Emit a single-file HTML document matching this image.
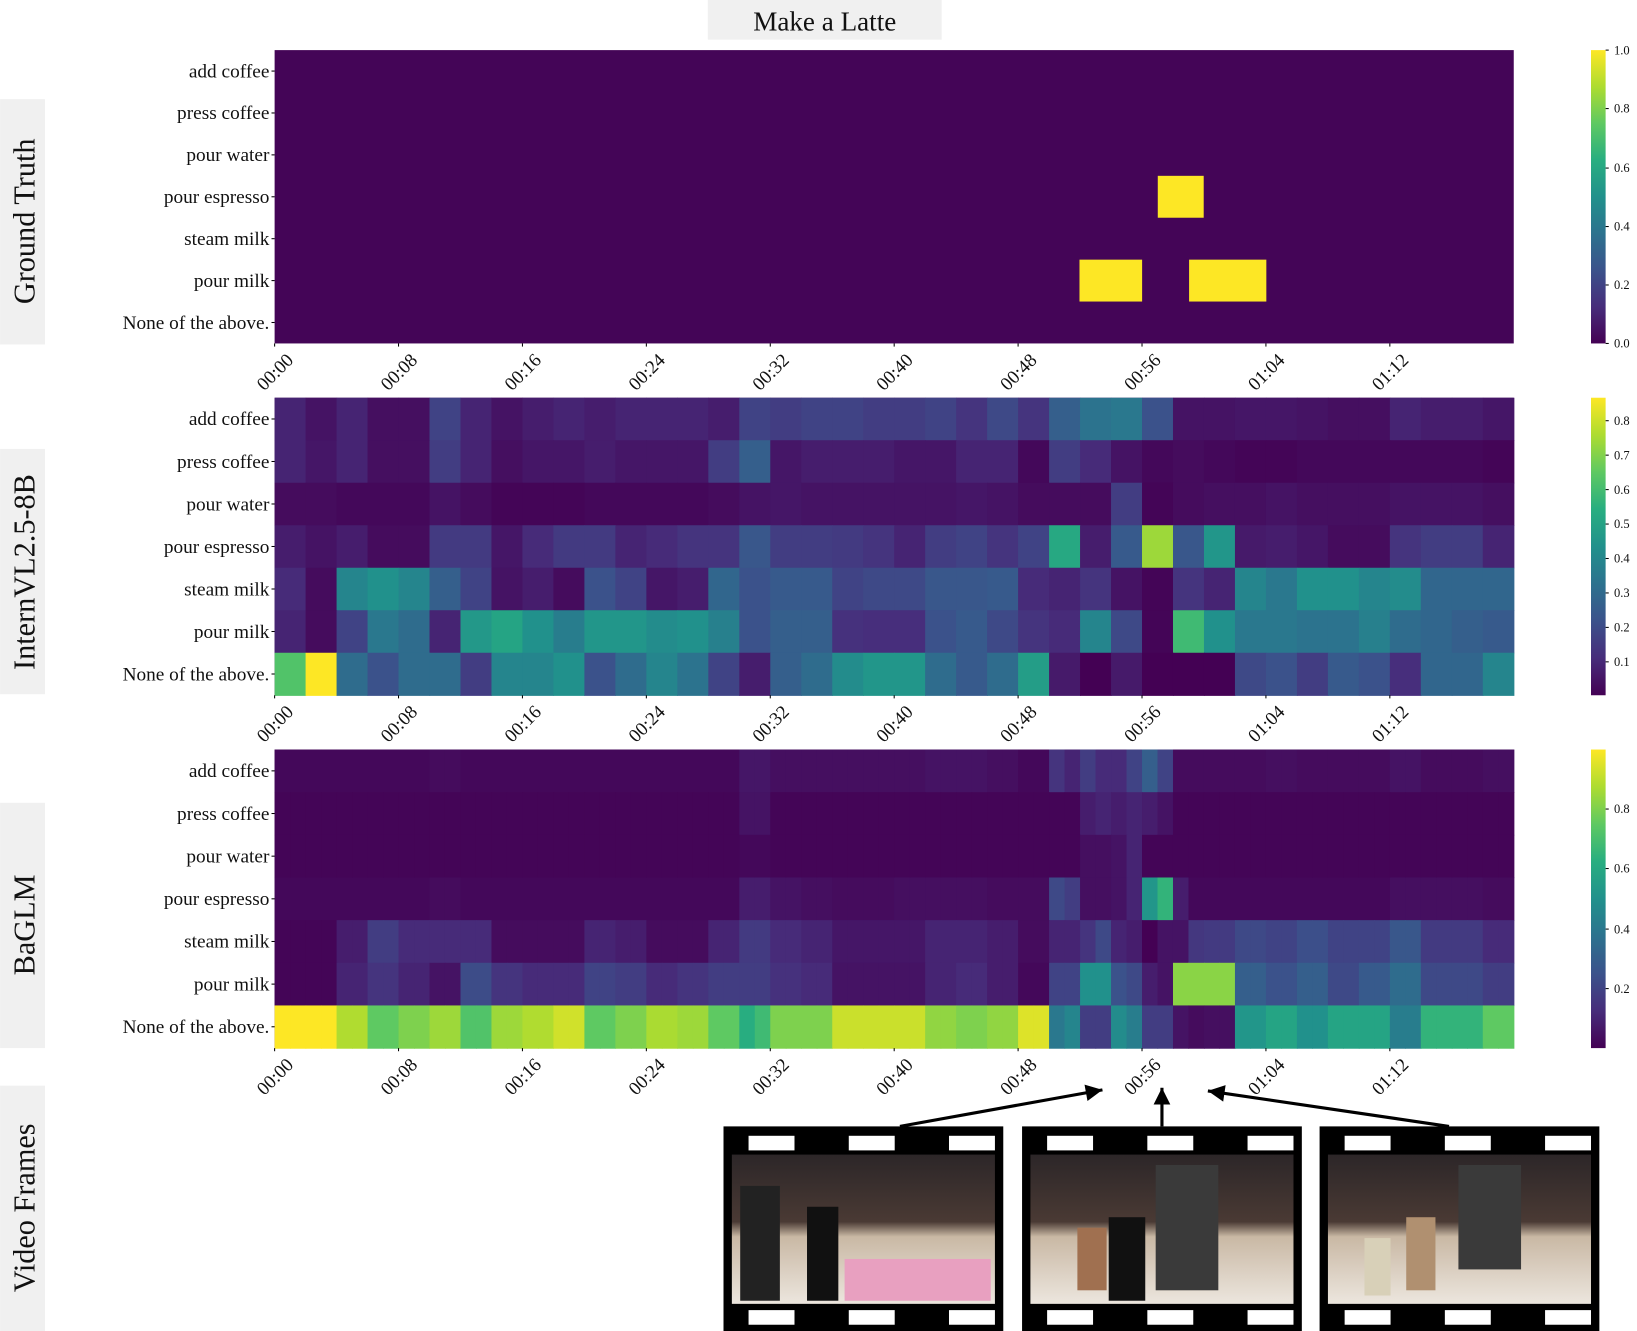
<!DOCTYPE html>
<html><head><meta charset="utf-8"><style>
html,body{margin:0;padding:0;background:#fff;}
svg{display:block;}
text{font-family:"Liberation Serif",serif;fill:#111;}
</style></head><body>
<svg id="s" width="1637" height="1331" viewBox="0 0 1568 1275" xmlns="http://www.w3.org/2000/svg">
<defs>
<linearGradient id="vir" x1="0" y1="1" x2="0" y2="0">
<stop offset="0" stop-color="#440154"/><stop offset="0.125" stop-color="#472d7b"/><stop offset="0.25" stop-color="#3b528b"/><stop offset="0.375" stop-color="#2c728e"/><stop offset="0.5" stop-color="#21918c"/><stop offset="0.625" stop-color="#28ae80"/><stop offset="0.75" stop-color="#5ec962"/><stop offset="0.875" stop-color="#addc30"/><stop offset="1" stop-color="#fde725"/>
</linearGradient>
<linearGradient id="ph" x1="0" y1="0" x2="0" y2="1">
<stop offset="0" stop-color="#2c2628"/><stop offset="0.45" stop-color="#4a3a34"/><stop offset="0.55" stop-color="#c9b8a4"/><stop offset="1" stop-color="#ece6de"/>
</linearGradient>
</defs>
<rect x="678" y="0" width="224" height="38" fill="#f0f0f0"/>
<text x="790" y="29" font-size="26" text-anchor="middle">Make a Latte</text>
<rect x="0" y="95" width="43" height="235" fill="#f0f0f0"/>
<text transform="translate(33,212) rotate(-90)" font-size="29" text-anchor="middle">Ground Truth</text>
<rect x="0" y="430" width="43" height="235" fill="#f0f0f0"/>
<text transform="translate(33,548) rotate(-90)" font-size="29" text-anchor="middle">InternVL2.5-8B</text>
<rect x="0" y="769" width="43" height="235" fill="#f0f0f0"/>
<text transform="translate(33,886) rotate(-90)" font-size="29" text-anchor="middle">BaGLM</text>
<rect x="0" y="1040" width="43" height="235" fill="#f0f0f0"/>
<text transform="translate(33,1157) rotate(-90)" font-size="29" text-anchor="middle">Video Frames</text>
<g id="g"></g>
</svg>
<script>
const NS="http://www.w3.org/2000/svg";
const g=document.getElementById('g');
function el(t,a,txt){const e=document.createElementNS(NS,t);for(const k in a)e.setAttribute(k,a[k]);if(txt!==undefined)e.textContent=txt;g.appendChild(e);return e;}
const stops=[[68,1,84],[71,45,123],[59,82,139],[44,114,142],[33,145,140],[40,174,128],[94,201,98],[173,220,48],[253,231,37]];
function vir(v){v=Math.max(0,Math.min(1,v));const p=v*8,i=Math.min(7,Math.floor(p)),f=p-i;const a=stops[i],b=stops[i+1];return`rgb(${a.map((x,k)=>Math.round(x+(b[k]-x)*f)).join(',')})`;}
const X0=263,X1=1450,W=X1-X0;
const labels=["add coffee","press coffee","pour water","pour espresso","steam milk","pour milk","None of the above."];
function panel(y0,y1,data,cb){
 const rh=(y1-y0)/7;
 el('rect',{x:X0,y:y0,width:W,height:y1-y0,fill:vir(0.01)});
 data.forEach((row,r)=>{const n=row.length,cw=W/n;row.forEach((v,c)=>{el('rect',{x:X0+c*cw,y:y0+r*rh,width:cw+0.6,height:rh+0.6,fill:vir(v)});});});
 labels.forEach((l,r)=>{el('text',{x:X0-5,y:y0+r*rh+rh/2+6,'font-size':18.5,'text-anchor':'end'},l);el('line',{x1:X0-3,x2:X0,y1:y0+r*rh+rh/2,y2:y0+r*rh+rh/2,stroke:'#000','stroke-width':1});});
 const tl=["00:00","00:08","00:16","00:24","00:32","00:40","00:48","00:56","01:04","01:12"];
 tl.forEach((t,k)=>{const x=X0+k*118.7;el('line',{x1:x,x2:x,y1:y1,y2:y1+3,stroke:'#000'});el('text',{transform:`translate(${x+19},${y1+17}) rotate(-45)`,'font-size':18,'text-anchor':'end'},t);});
 el('rect',{x:1524,y:y0,width:14,height:y1-y0,fill:'url(#vir)'});
 cb.forEach(([v,yy])=>{el('line',{x1:1538,x2:1541,y1:yy,y2:yy,stroke:'#000'});el('text',{x:1546,y:yy+4,'font-size':12},v);});
}
(function(){const y0=48,y1=329;panel(y0,y1,[],[["0.0",329],["0.2",273],["0.4",217],["0.6",161],["0.8",104],["1.0",48]]);
const rh=(y1-y0)/7,Y='#fde725';
el('rect',{x:1109,y:y0+3*rh,width:44,height:rh,fill:Y});
el('rect',{x:1034,y:y0+5*rh,width:60,height:rh,fill:Y});
el('rect',{x:1139,y:y0+5*rh,width:74,height:rh,fill:Y});})();
const p2=[
[0.1,0.05,0.1,0.04,0.04,0.2,0.1,0.05,0.08,0.1,0.08,0.1,0.1,0.1,0.08,0.2,0.18,0.2,0.2,0.18,0.18,0.2,0.15,0.22,0.15,0.3,0.38,0.4,0.25,0.05,0.05,0.06,0.06,0.05,0.04,0.04,0.1,0.08,0.08,0.06],
[0.1,0.06,0.1,0.04,0.04,0.18,0.1,0.04,0.06,0.06,0.08,0.06,0.06,0.06,0.18,0.3,0.06,0.08,0.08,0.08,0.06,0.06,0.1,0.1,0.02,0.18,0.12,0.05,0.02,0.03,0.02,0.01,0.01,0.02,0.02,0.02,0.02,0.02,0.02,0.01],
[0.03,0.03,0.02,0.02,0.02,0.05,0.03,0.01,0.01,0.01,0.02,0.02,0.02,0.02,0.03,0.05,0.06,0.05,0.05,0.05,0.05,0.05,0.06,0.05,0.03,0.03,0.03,0.18,0.01,0.03,0.04,0.04,0.05,0.04,0.04,0.04,0.05,0.05,0.05,0.04],
[0.08,0.05,0.08,0.03,0.03,0.17,0.17,0.06,0.12,0.17,0.17,0.1,0.12,0.15,0.15,0.27,0.18,0.18,0.17,0.15,0.1,0.18,0.2,0.15,0.2,0.6,0.08,0.28,0.85,0.27,0.52,0.07,0.08,0.06,0.03,0.03,0.15,0.18,0.18,0.1],
[0.12,0.03,0.45,0.5,0.45,0.3,0.2,0.05,0.08,0.03,0.25,0.2,0.06,0.08,0.33,0.25,0.28,0.28,0.2,0.22,0.22,0.27,0.27,0.28,0.12,0.1,0.15,0.05,0.01,0.15,0.1,0.45,0.4,0.5,0.5,0.45,0.48,0.33,0.33,0.33],
[0.1,0.03,0.2,0.4,0.35,0.1,0.53,0.58,0.5,0.42,0.52,0.52,0.48,0.5,0.43,0.25,0.3,0.3,0.14,0.13,0.13,0.25,0.28,0.22,0.15,0.12,0.45,0.22,0.01,0.68,0.5,0.4,0.4,0.38,0.38,0.43,0.35,0.33,0.3,0.28],
[0.72,1.0,0.35,0.25,0.35,0.35,0.18,0.45,0.45,0.5,0.25,0.35,0.45,0.38,0.2,0.08,0.3,0.35,0.48,0.52,0.52,0.35,0.28,0.35,0.55,0.07,0.0,0.07,0.0,0.0,0.0,0.22,0.25,0.18,0.28,0.25,0.13,0.33,0.33,0.45]];
panel(381,666,p2,[["0.1",634],["0.2",601],["0.3",568],["0.4",535],["0.5",502],["0.6",469],["0.7",436],["0.8",403]]);
function ex(a){const o=[];a.forEach(v=>{if(Array.isArray(v))o.push(v[0],v[1]);else o.push(v,v);});return o;}
const z=0.02;
const p3=[
ex([z,z,z,z,z,0.03,z,z,z,z,z,z,z,z,z,0.06,0.04,0.04,0.04,0.04,0.04,0.05,0.05,0.04,0.02,[0.15,0.1],[0.18,0.12],[0.12,0.2],[0.3,0.2],0.03,0.03,0.03,0.04,0.03,0.03,0.03,0.05,0.03,0.03,0.04]),
ex([0.01,0.01,0.01,0.01,0.01,0.01,0.01,0.01,0.01,0.01,0.01,0.01,0.01,0.01,0.01,0.05,0.01,0.01,0.01,0.01,0.01,0.01,0.01,0.01,0.01,[0.01,0.01],[0.08,0.1],[0.08,0.1],[0.08,0.05],0.01,0.01,0.01,0.01,0.01,0.01,0.01,0.01,0.01,0.01,0.01]),
ex([0.01,0.01,0.01,0.01,0.01,0.01,0.01,0.01,0.01,0.01,0.01,0.01,0.01,0.01,0.01,0.02,0.01,0.01,0.01,0.01,0.01,0.01,0.01,0.01,0.01,[0.01,0.01],[0.04,0.04],[0.05,0.1],[0.01,0.01],0.01,0.01,0.01,0.01,0.01,0.01,0.01,0.01,0.01,0.01,0.01]),
ex([0.02,0.02,0.02,0.02,0.02,0.03,0.02,0.02,0.02,0.02,0.02,0.02,0.02,0.02,0.02,0.08,0.05,0.04,0.03,0.03,0.04,0.04,0.04,0.03,0.03,[0.22,0.18],[0.04,0.04],[0.05,0.1],[0.52,0.65],[0.08,0.02],0.02,0.02,0.02,0.02,0.02,0.02,0.04,0.04,0.04,0.03]),
ex([0.01,0.01,0.08,0.18,0.12,0.12,0.12,0.03,0.03,0.03,0.1,0.08,0.03,0.03,0.1,0.17,0.12,0.1,0.06,0.06,0.06,0.1,0.1,0.08,0.03,0.1,[0.15,0.22],[0.1,0.08],[0.0,0.05],[0.05,0.16],0.17,0.22,0.2,0.24,0.2,0.2,0.27,0.17,0.17,0.12]),
ex([0.01,0.01,0.1,0.15,0.1,0.05,0.23,0.15,0.12,0.12,0.2,0.18,0.12,0.15,0.18,0.18,0.14,0.12,0.05,0.05,0.05,0.1,0.12,0.08,0.02,0.2,0.5,[0.25,0.22],[0.08,0.05],0.82,0.82,0.3,0.25,0.3,0.22,0.28,0.35,0.22,0.22,0.18]),
ex([1.0,1.0,0.88,0.75,0.8,0.85,0.72,0.85,0.88,0.93,0.75,0.8,0.87,0.85,0.75,[0.62,0.68],0.8,0.8,0.92,0.92,0.92,0.83,0.8,0.83,0.95,[0.4,0.45],[0.18,0.18],[0.48,0.42],[0.18,0.18],[0.05,0.03],0.04,0.52,0.58,0.5,0.58,0.58,0.42,0.65,0.65,0.75])];
panel(718,1004,p3,[["0.2",947],["0.4",890],["0.6",832],["0.8",775]]);
[693,979,1264].forEach((fx,i)=>{
 const fw=268;
 el('rect',{x:fx,y:1079,width:fw,height:196,fill:'#000'});
 [0,1,2].forEach(k=>{const hx=fx+24+k*96;el('rect',{x:hx,y:1088,width:44,height:14,fill:'#fff'});el('rect',{x:hx,y:1255,width:44,height:14,fill:'#fff'});});
 const px=fx+8,py=1106,pw=fw-16,ph=143;
 el('rect',{x:px,y:py,width:pw,height:ph,fill:'url(#ph)'});
 if(i==0){el('rect',{x:px+8,y:py+30,width:38,height:110,fill:'#222'});el('rect',{x:px+72,y:py+50,width:30,height:90,fill:'#111'});el('rect',{x:px+108,y:py+100,width:140,height:40,fill:'#e8a0c0'});}
 if(i==1){el('rect',{x:px+120,y:py+10,width:60,height:120,fill:'#3a3a3a'});el('rect',{x:px+75,y:py+60,width:35,height:80,fill:'#111'});el('rect',{x:px+45,y:py+70,width:28,height:60,fill:'#a07050'});}
 if(i==2){el('rect',{x:px+125,y:py+10,width:60,height:100,fill:'#3a3a3a'});el('rect',{x:px+75,y:py+60,width:28,height:70,fill:'#b09070'});el('rect',{x:px+35,y:py+80,width:25,height:55,fill:'#d8d0b8'});}
});
function arrow(x1,y1,x2,y2){el('line',{x1,y1,x2,y2,stroke:'#000','stroke-width':3});const a=Math.atan2(y2-y1,x2-x1),L=16,w=8;const bx=x2-L*Math.cos(a),by=y2-L*Math.sin(a);el('polygon',{points:`${x2},${y2} ${bx-w*Math.sin(a)},${by+w*Math.cos(a)} ${bx+w*Math.sin(a)},${by-w*Math.cos(a)}`,fill:'#000'});}
arrow(862,1079,1056,1044);arrow(1113,1079,1113,1042);arrow(1388,1079,1157,1045);
</script>
</body></html>
